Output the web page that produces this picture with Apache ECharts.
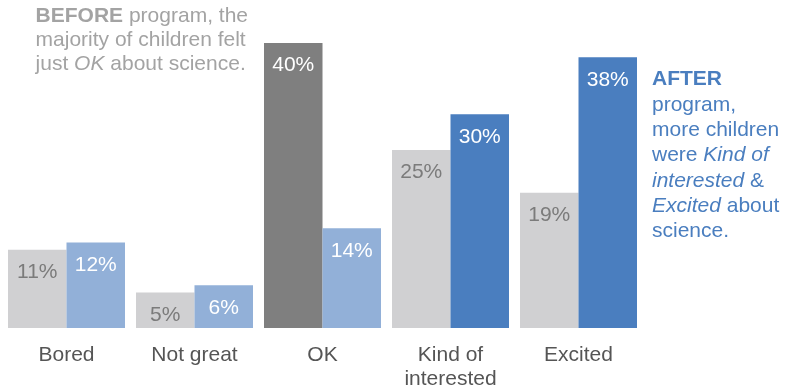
<!DOCTYPE html>
<html>
<head>
<meta charset="utf-8">
<script src="https://cdn.jsdelivr.net/npm/echarts@6/dist/echarts.min.js"></script>
<style>
  html, body { margin: 0; padding: 0; background: #fff; }
  #chart { width: 786px; height: 387px; }
</style>
</head>
<body>
<div id="chart"></div>
<script>
const categories = ['Bored', 'Not great', 'OK', 'Kind of\ninterested', 'Excited'];
const before = [11, 5, 40, 25, 19];
const after = [12, 6, 14, 30, 38];
const beforeColors = ['#d0d0d2', '#d0d0d2', '#7f7f7f', '#d0d0d2', '#d0d0d2'];
const afterColors = ['#92b0d8', '#92b0d8', '#92b0d8', '#4a7ebf', '#4a7ebf'];
const beforeLabelColors = ['#7b7b7b', '#7b7b7b', '#ffffff', '#7b7b7b', '#7b7b7b'];

const font = '"Liberation Sans", Arial, sans-serif';
const fs = 21;
const chart = echarts.init(document.getElementById('chart'));

const barLabel = {
  show: true,
  position: 'insideTop',
  distance: 12,
  fontFamily: font,
  fontSize: fs,
  color: '#ffffff',
  formatter: (p) => p.value + '%',
};

chart.setOption({
  animation: false,
  grid: { left: 2.5, right: 143.5, top: 43, bottom: 59, outerBoundsMode: 'none' },
  xAxis: {
    type: 'category',
    data: categories,
    axisLine: { show: false },
    axisTick: { show: false },
    axisLabel: {
      margin: 15,
      fontFamily: font,
      fontSize: fs,
      lineHeight: 24,
      color: '#555555',
    },
  },
  yAxis: {
    type: 'value',
    min: 0,
    max: 40,
    show: false,
  },
  series: [
    {
      name: 'Before',
      type: 'bar',
      data: before.map((v, i) => ({
        value: v,
        itemStyle: { color: beforeColors[i] },
        label: { color: beforeLabelColors[i] },
      })),
      barWidth: 58.5,
      barGap: '0%',
      label: barLabel,
    },
    {
      name: 'After',
      type: 'bar',
      data: after.map((v, i) => ({
        value: v,
        itemStyle: { color: afterColors[i] },
      })),
      barWidth: 58.5,
      label: barLabel,
    },
  ],
  graphic: [
    {
      type: 'text',
      right: 786 - 248,
      top: 4,
      style: {
        text: '{b|BEFORE} program, the\nmajority of children felt\njust {i|OK} about science.',
        fill: '#a3a3a3',
        font: fs + 'px ' + font,
        lineHeight: 24,
        align: 'right',
        rich: {
          b: { fontWeight: 'bold', fontSize: fs, fontFamily: font, fill: '#a3a3a3', lineHeight: 24 },
          i: { fontStyle: 'italic', fontSize: fs, fontFamily: font, fill: '#a3a3a3', lineHeight: 24 },
        },
      },
    },
    {
      type: 'text',
      left: 652,
      top: 67,
      style: {
        text: '{b|AFTER}\nprogram,\nmore children\nwere {i|Kind of}\n{i|interested} &\n{i|Excited} about\nscience.',
        fill: '#4a7ebf',
        font: fs + 'px ' + font,
        lineHeight: 25.3,
        rich: {
          b: { fontWeight: 'bold', fontSize: fs, fontFamily: font, fill: '#4a7ebf', lineHeight: 25.3 },
          i: { fontStyle: 'italic', fontSize: fs, fontFamily: font, fill: '#4a7ebf', lineHeight: 25.3 },
        },
      },
    },
  ],
});
</script>
</body>
</html>
